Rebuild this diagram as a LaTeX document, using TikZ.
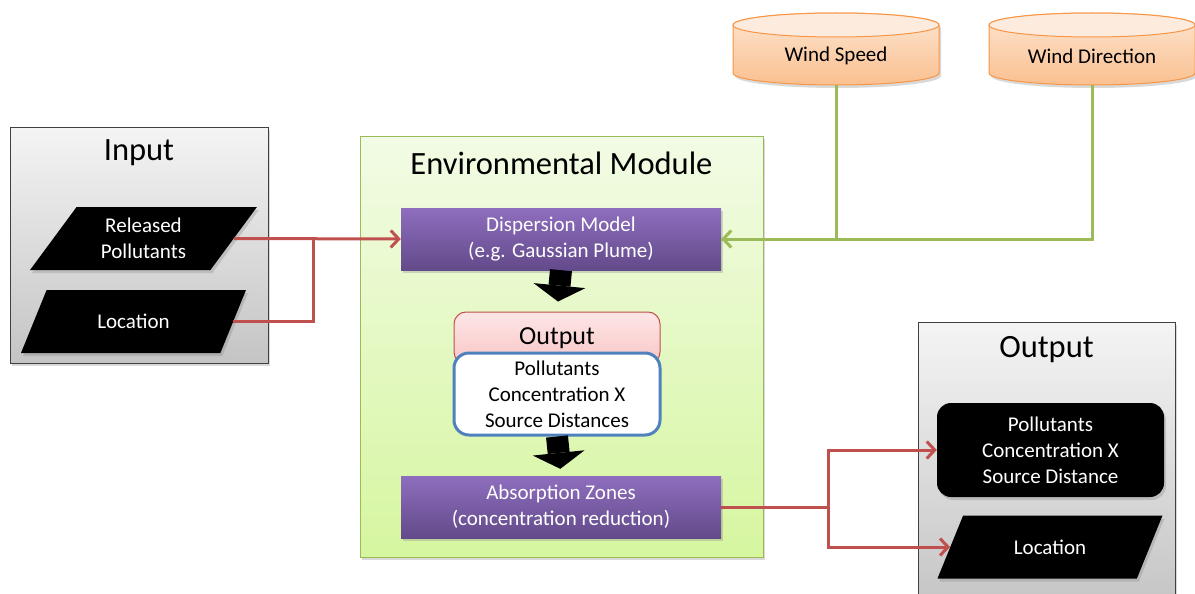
\documentclass[tikz,border=0pt]{standalone}
\usepackage{fontspec}
\setmainfont{Carlito}
\usetikzlibrary{arrows.meta,shapes.geometric,shadows}

\definecolor{panelTop}{HTML}{F4F4F4}
\definecolor{panelBot}{HTML}{C4C4C4}
\definecolor{envTop}{HTML}{F2FBE5}
\definecolor{envBot}{HTML}{D6F6A0}
\definecolor{envLine}{HTML}{9BBB59}
\definecolor{procTop}{HTML}{8E6EBE}
\definecolor{procBot}{HTML}{634A8A}
\definecolor{pinkTop}{HTML}{FDE6E6}
\definecolor{pinkBot}{HTML}{F9C6C6}
\definecolor{pinkLine}{HTML}{C0504D}
\definecolor{dataLine}{HTML}{4F81BD}
\definecolor{flowRed}{HTML}{C0504D}
\definecolor{flowGreen}{HTML}{9BBB59}
\definecolor{tankTop}{HTML}{FDE5D0}
\definecolor{tankBot}{HTML}{FAC090}
\definecolor{tankCap}{HTML}{FDEBDD}
\definecolor{tankLine}{HTML}{F79646}

\newcommand{\titlesize}{\fontsize{32.5}{38}\selectfont}
\newcommand{\headsize}{\fontsize{26}{30}\selectfont}
\newcommand{\labelsize}{\fontsize{21}{26}\selectfont}

\tikzset{
  softshadow/.style={drop shadow={shadow xshift=2pt, shadow yshift=-3pt, opacity=0.3}},
  panel/.style={draw=black!75, line width=0.8pt, top color=panelTop, bottom color=panelBot, softshadow},
  title/.style={font=\titlesize, inner sep=0pt},
  slab/.style={trapezium, trapezium left angle=54, trapezium right angle=126,
    trapezium stretches=true, minimum width=227pt, minimum height=63pt,
    fill=black, text=white, align=center, font=\labelsize, inner sep=0pt, softshadow},
  proc/.style={minimum width=320pt, minimum height=62pt, top color=procTop, bottom color=procBot,
    text=white, align=center, font=\labelsize, softshadow},
  flow/.style={draw=flowRed, line width=3pt, -{Straight Barb[length=8pt, width=17pt]}},
  wind/.style={draw=flowGreen, line width=3pt},
  bigarrow/.style={line width=22pt, -{Triangle[width=52pt, length=16pt, line width=0pt]}},
  tank/.style={minimum width=206pt, minimum height=58pt, font=\labelsize, inner sep=0pt}
}

\newcommand{\tankshape}[1]{%
  \path[top color=tankTop, bottom color=tankBot, draw=tankLine, line width=1pt, softshadow]
    (#1-103,25) -- (#1-103,73) arc[start angle=180, end angle=0, x radius=103, y radius=12]
    -- (#1+103,25) arc[start angle=0, end angle=-180, x radius=103, y radius=12] -- cycle;
  \path[fill=tankCap, draw=tankLine, line width=1pt] (#1,25) ellipse[x radius=103, y radius=12];
}

\begin{document}
\begin{tikzpicture}[x=1pt, y=-1pt]
    \useasboundingbox (0,0) rectangle (1195,594);
    \clip (0,0) rectangle (1195,594);

    % Input panel
    \node[panel, minimum width=258pt, minimum height=236pt] (in) at (139,245) {};
    \node[title] (inTitle) at (139,153) {Input};
    \node[slab] (inRel) at (143.5,238.5) {Released\\Pollutants};
    \node[slab] (inLoc) at (133.5,321.5) {Location};

    % Environmental module
    \node[draw=envLine, line width=0.8pt, top color=envTop, bottom color=envBot,
      minimum width=403pt, minimum height=421pt, softshadow] (env) at (561.5,346.5) {};
    \node[title] (envTitle) at (561.5,163) {Environmental Module};
    \node[proc] (disp) at (561,239) {Dispersion Model\\(e.g. Gaussian Plume)};
    \node[draw=pinkLine, line width=1pt, rounded corners=12pt, top color=pinkTop, bottom color=pinkBot,
      minimum width=206pt, minimum height=52pt, font=\headsize] (outHead) at (557,338) {Output};
    \node[draw=dataLine, line width=3pt, rounded corners=15pt, fill=white, align=center,
      minimum width=206pt, minimum height=82pt, font=\labelsize] (outData) at (557,394)
      {Pollutants\\Concentration X\\Source Distances};
    \node[proc] (absorb) at (561,507) {Absorption Zones\\(concentration reduction)};

    % Output panel
    \node[panel, minimum width=257pt, minimum height=290pt] (out) at (1046.5,467) {};
    \node[title] (outTitle) at (1046.5,350) {Output};
    \node[fill=black, rounded corners=14pt, text=white, align=center, font=\labelsize,
      minimum width=227pt, minimum height=94pt, softshadow] (outConc) at (1050.5,450)
      {Pollutants\\Concentration X\\Source Distance};
    \node[slab] (outLoc) at (1050,547) {Location};

    % Weather data
    \tankshape{836}
    \tankshape{1092}
    \node[tank] (wspeed) at (836,56) {Wind Speed};
    \node[tank] (wdir) at (1092,56) {Wind Direction};

    % Module steps
    \draw[bigarrow, shorten >=10pt] (disp.south) -- (outHead.north);
    \draw[bigarrow, shorten >=7pt] (outData.south) -- (absorb.north);

    % Inputs into the dispersion model
    \coordinate (merge) at (313,239);
    \draw[flow] (inRel.east) -- (disp.west);
    \draw[draw=flowRed, line width=3pt] (inLoc.east) -| (merge);
    \draw[wind] (wspeed.south) |- (disp.east);
    \draw[wind, -{Straight Barb[length=8pt, width=17pt]}] (wdir.south) |- (disp.east);

    % Results
    \coordinate (split) at (828,507);
    \draw[draw=flowRed, line width=3pt] (absorb.east) -- (split);
    \draw[flow] (split) |- (outConc.west);
    \draw[flow] (split) |- (outLoc.west);
\end{tikzpicture}
\end{document}
